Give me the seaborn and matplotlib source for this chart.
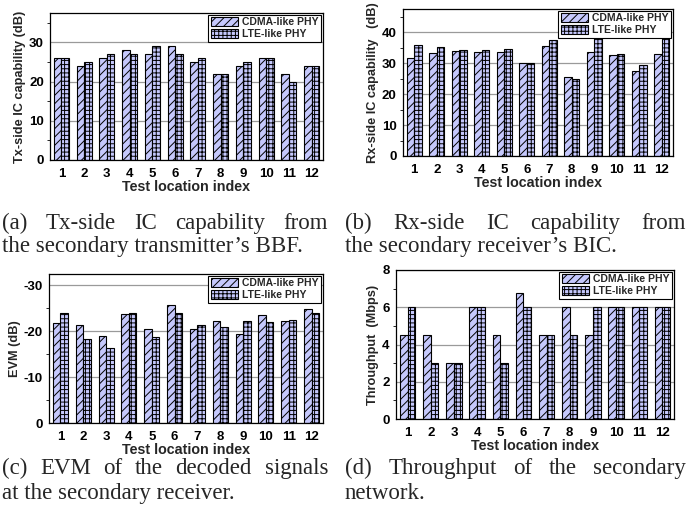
import numpy as np
import pandas as pd
import matplotlib
matplotlib.use("Agg")
import matplotlib.pyplot as plt
import seaborn as sns
from matplotlib.patches import Patch
from matplotlib.ticker import MultipleLocator, FixedLocator

# ---------------- data ----------------
locations = [str(i) for i in range(1, 13)]
series_names = ["CDMA-like PHY", "LTE-like PHY"]

tx_cdma = [26, 24, 26, 28, 27, 29, 25, 22, 24, 26, 22, 24]
tx_lte = [26, 25, 27, 27, 29, 27, 26, 22, 25, 26, 20, 24]

rx_cdma = [31.8, 33.3, 33.9, 33.6, 33.5, 30.0, 35.6, 25.4, 33.5, 32.6, 27.4, 32.9]
rx_lte = [36.0, 35.3, 34.4, 34.1, 34.6, 30.1, 37.4, 24.8, 38.5, 33.1, 29.5, 38.0]

evm_cdma = [-21.8, -21.4, -18.9, -23.8, -20.5, -25.8, -20.6, -22.3, -19.5, -23.6, -22.2, -24.9]
evm_lte = [-24.1, -18.3, -16.3, -24.1, -18.7, -24.0, -21.4, -20.9, -22.2, -22.0, -22.5, -23.9]

thr_cdma = [4.5, 4.5, 3.0, 6.0, 4.5, 6.75, 4.5, 6.0, 4.5, 6.0, 6.0, 6.0]
thr_lte = [6.0, 3.0, 3.0, 6.0, 3.0, 6.0, 4.5, 4.5, 6.0, 6.0, 6.0, 6.0]

# ---------------- style ----------------
sns.set_theme(style="white")
plt.rcParams["font.family"] = ["Liberation Sans", "DejaVu Sans"]
plt.rcParams["font.weight"] = "bold"
plt.rcParams["axes.unicode_minus"] = False
plt.rcParams["hatch.linewidth"] = 0.7
plt.rcParams["hatch.color"] = "black"

BAR_COLOR = "#c5c8fc"
HATCHES = ["////", "++++"]

W, H = 689, 516
fig = plt.figure(figsize=(W / 100, H / 100), dpi=100)


def px_rect(left, right, top, bottom):
    return [left / W, 1 - bottom / H, (right - left) / W, (bottom - top) / H]


def panel(rect, cdma, lte, ylabel, ylim, major, minor, ticks=None):
    ax = fig.add_axes(rect)
    df = pd.DataFrame({
        "loc": locations * 2,
        "val": list(cdma) + list(lte),
        "phy": [series_names[0]] * len(cdma) + [series_names[1]] * len(lte),
    })
    sns.barplot(data=df, x="loc", y="val", hue="phy", order=locations,
                hue_order=series_names, palette=[BAR_COLOR, BAR_COLOR],
                width=0.66, edgecolor="black", linewidth=0.8, errorbar=None,
                legend=False, ax=ax, saturation=1)
    for cont, hatch in zip(ax.containers, HATCHES):
        for bar in cont:
            bar.set_hatch(hatch)
            bar.set_edgecolor("black")
    ax.set_xlim(-0.5, 11.5)
    ax.set_ylim(*ylim)
    if ticks is not None:
        ax.yaxis.set_major_locator(FixedLocator(ticks))
    else:
        ax.yaxis.set_major_locator(MultipleLocator(major))
    ax.yaxis.set_minor_locator(MultipleLocator(minor))
    ax.yaxis.grid(True, which="major", color="#9a9a9a", lw=0.9)
    ax.set_axisbelow(True)
    for s in ax.spines.values():
        s.set_color("black")
        s.set_linewidth(0.9)
    ax.tick_params(axis="both", which="major", direction="out", length=3,
                   width=0.8, labelsize=9.5, colors="black")
    ax.tick_params(axis="x", which="major", pad=2.5)
    ax.tick_params(axis="y", which="major", pad=1.5)
    ax.tick_params(axis="y", which="minor", direction="out", length=2, width=0.7,
                   left=True)
    ax.tick_params(axis="x", which="minor", bottom=False)
    ax.tick_params(top=False, right=False)
    for lab in ax.get_xticklabels() + ax.get_yticklabels():
        lab.set_fontweight("bold")
    ax.set_xlabel("Test location index", fontsize=10.3, fontweight="bold", labelpad=0)
    ax.set_ylabel(ylabel, fontsize=9.2, fontweight="bold", labelpad=2)
    handles = [Patch(facecolor=BAR_COLOR, edgecolor="black", hatch=h, lw=0.8)
               for h in HATCHES]
    leg = ax.legend(handles, series_names, loc="upper right", fontsize=7.5,
                    frameon=True, fancybox=False, framealpha=1, edgecolor="black",
                    borderaxespad=0.15, borderpad=0.25, labelspacing=0.2,
                    handlelength=2.6, handleheight=0.9, handletextpad=0.4)
    leg.get_frame().set_linewidth(0.8)
    for t in leg.get_texts():
        t.set_fontweight("bold")
    return ax


panel(px_rect(50, 323, 13, 160), tx_cdma, tx_lte, "Tx-side IC capability (dB)",
      (0, 37.5), 10, 5)
panel(px_rect(403, 673, 9, 156), rx_cdma, rx_lte, "Rx-side IC capability   (dB)",
      (0, 47.5), 10, 5)
panel(px_rect(49, 323, 274, 423), evm_cdma, evm_lte, "EVM (dB)",
      (0, -32.5), 10, 5, ticks=[0, -10, -20, -30])
panel(px_rect(396, 674, 270, 419), thr_cdma, thr_lte, "Throughput  (Mbps)",
      (0, 8), 2, 1)

# ---------------- captions ----------------
renderer = fig.canvas.get_renderer()
CAP_KW = dict(fontsize=16.5, fontweight="normal",
              family=["Liberation Serif", "DejaVu Serif"])


def caption_line(text, x0, x1, y, justify):
    if not justify:
        fig.text(x0 / W, 1 - y / H, text, ha="left", va="baseline", **CAP_KW)
        return
    words = text.split()
    objs = [fig.text(0, 1 - y / H, w, ha="left", va="baseline", **CAP_KW)
            for w in words]
    widths = [o.get_window_extent(renderer).width for o in objs]
    gap = (x1 - x0 - sum(widths)) / (len(words) - 1)
    x = x0
    for o, w in zip(objs, widths):
        o.set_x(x / W)
        x += w + gap


caption_line("(a) Tx-side IC capability from", 2, 328, 229, True)
caption_line("the secondary transmitter\u2019s BBF.", 2, 328, 252, False)
caption_line("(b) Rx-side IC capability from", 345, 686, 229, True)
caption_line("the secondary receiver\u2019s BIC.", 345, 686, 252, False)
caption_line("(c) EVM of the decoded signals", 2, 328, 474, True)
caption_line("at the secondary receiver.", 2, 328, 499, False)
caption_line("(d) Throughput of the secondary", 345, 686, 474, True)
caption_line("network.", 345, 686, 499, False)

fig.savefig("out.png", dpi=100)
